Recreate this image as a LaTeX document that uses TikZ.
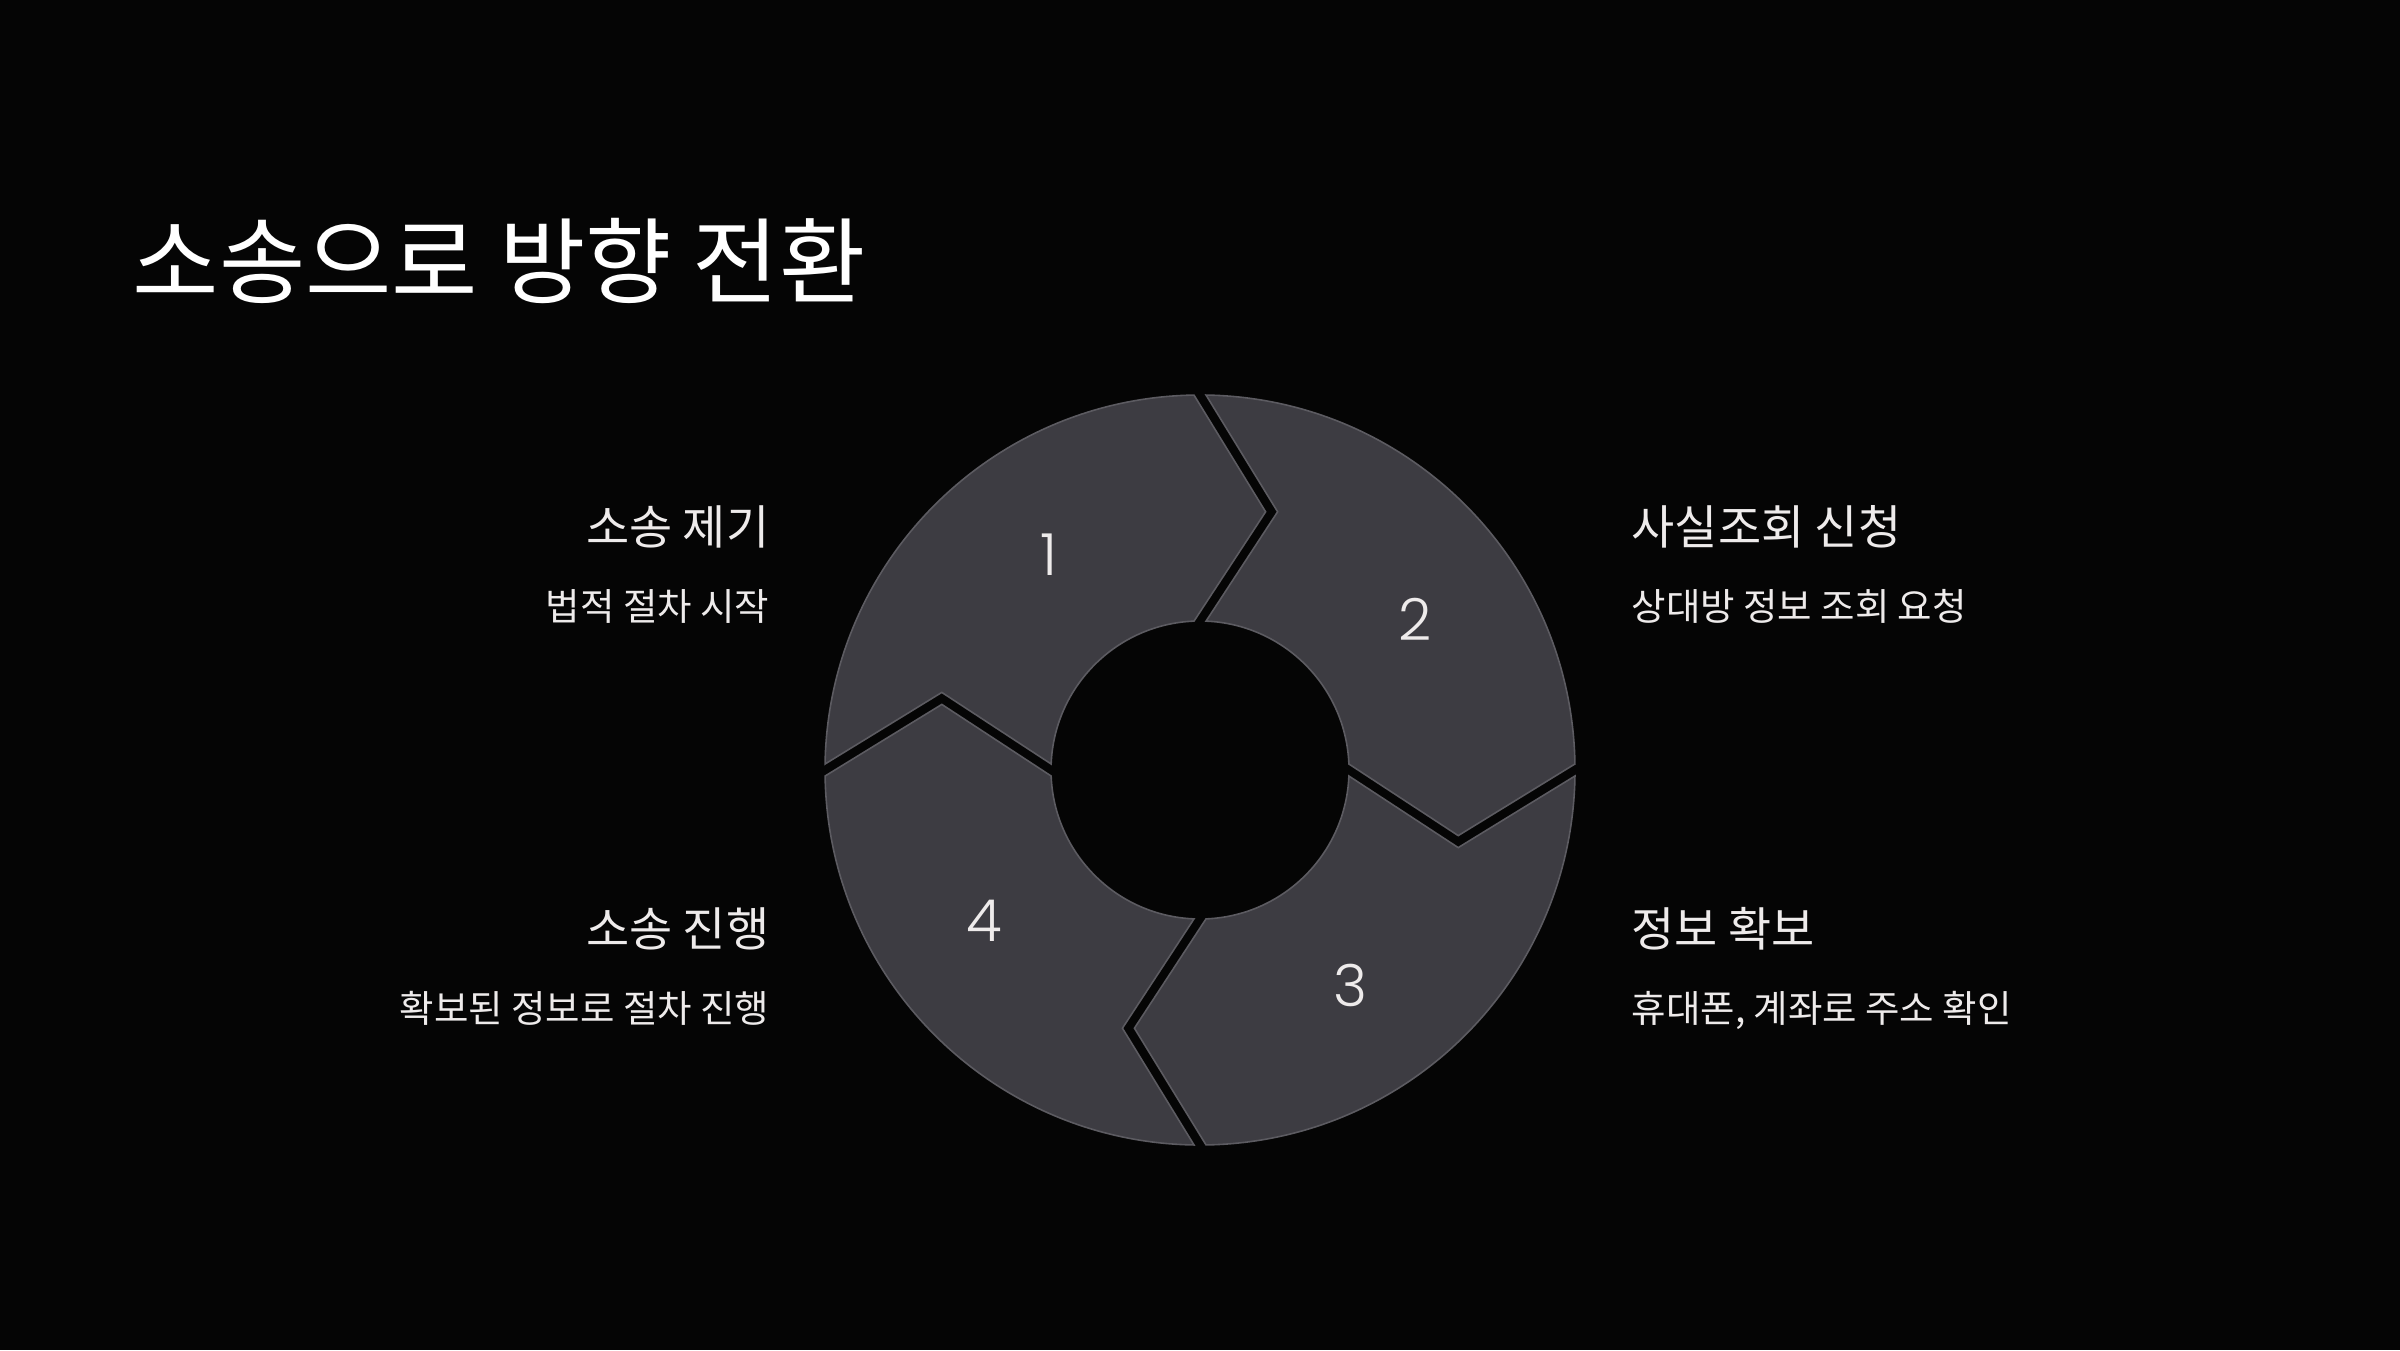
\documentclass[tikz,border=0pt]{standalone}
\usepackage{fontspec}
\setmainfont{Noto Sans CJK KR}
\newfontfamily\numfont{Poppins Light}
\usepackage{tikz}

\definecolor{bgblack}{HTML}{050505}
\definecolor{segfill}{HTML}{3D3C42}
\definecolor{segline}{HTML}{5C5B61}
\definecolor{txtwhite}{HTML}{EEEBEB}

\begin{document}
\begin{tikzpicture}[
    seg/.style={fill=segfill, draw=segline, line width=0.45pt, line join=miter},
    num/.style={text=txtwhite, font=\numfont\fontsize{16.5pt}{18pt}\selectfont, inner sep=0pt},
    head/.style={text=txtwhite, font=\fontsize{13.35pt}{16pt}\selectfont, inner sep=0pt},
    sub/.style={text=txtwhite, font=\fontsize{10.65pt}{13pt}\selectfont, inner sep=0pt}
  ]
  \fill[bgblack] (0,0) rectangle (24,13.5);
  \useasboundingbox (0,0) rectangle (24,13.5);

  % title
  \node[text=white, font=\fontsize{26.7pt}{32pt}\selectfont, inner sep=0pt, anchor=base west] (title) at (1.32,10.53) {소송으로 방향 전환};

  % four ring pieces, clockwise from the upper left
  \coordinate (c) at (12,5.8);
  \foreach \k in {0,...,3} {
    \begin{scope}[shift={(c)}, rotate=-90*\k]
      \path[seg] (-3.7495,0.06) arc[start angle=179.08, end angle=90.92, radius=3.75]
        -- (0.656,2.582) -- (-0.06,1.4888)
        arc[start angle=92.31, end angle=177.69, radius=1.49]
        -- (-2.582,0.776) -- cycle;
      \pgfmathtruncatemacro{\n}{\k+1}
      \node[num] (n\n) at (125:2.63) {\n};
    \end{scope}
  }

  % labels
  \node[head, anchor=base east] (h1) at (7.70,8.06) {소송 제기};
  \node[sub, anchor=base east] (s1) at (7.70,7.30) {법적 절차 시작};
  \node[head, anchor=base west] (h2) at (16.31,8.06) {사실조회 신청};
  \node[sub, anchor=base west] (s2) at (16.31,7.30) {상대방 정보 조회 요청};
  \node[head, anchor=base west] (h3) at (16.31,4.04) {정보 확보};
  \node[sub, anchor=base west] (s3) at (16.31,3.28) {휴대폰, 계좌로 주소 확인};
  \node[head, anchor=base east] (h4) at (7.70,4.04) {소송 진행};
  \node[sub, anchor=base east] (s4) at (7.70,3.28) {확보된 정보로 절차 진행};
\end{tikzpicture}
\end{document}
